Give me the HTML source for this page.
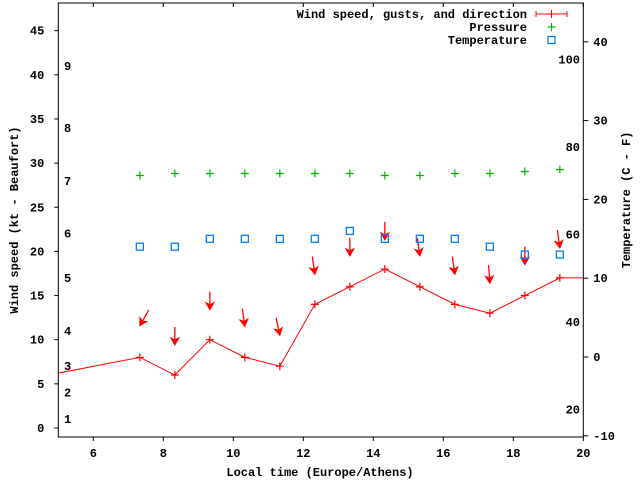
<!DOCTYPE html>
<html><head><meta charset="utf-8">
<style>
body{margin:0;background:#fff;}
svg{display:block;font-family:"Liberation Mono",monospace;font-weight:bold;font-size:12px;}
</style></head>
<body>
<svg id="chart" width="640" height="480" viewBox="0 0 640 480" xmlns="http://www.w3.org/2000/svg">
<g id="axes"></g>
<g id="marks"></g>
<g id="legend"></g>
</svg>
<script>
const times = [7.33, 8.33, 9.33, 10.33, 11.33, 12.33, 13.33, 14.33, 15.33, 16.33, 17.33, 18.33, 19.33];
const windSpeed = [8, 6, 10, 8, 7, 14, 16, 18, 16, 14, 13, 15, 17];
const windLeadTime = [4.33];
const windLeadSpeed = [5.7];
const gusts = [11.6, 9.4, 13.4, 11.5, 10.5, 17.4, 19.5, 21.3, 19.5, 17.4, 16.4, 18.5, 20.4];
const windDir = [30, 0, 0, 352, 348, 352, 0, 0, 352, 352, 356, 0, 352];
const pressure = [1013.5, 1014.0, 1014.0, 1014.0, 1014.0, 1014.0, 1014.0, 1013.5, 1013.5, 1014.0, 1014.0, 1014.5, 1015.0];
const temperature = [14, 14, 15, 15, 15, 15, 16, 15, 15, 15, 14, 13, 13];
const xTicks = [6, 8, 10, 12, 14, 16, 18, 20];
const yTicks = [0, 5, 10, 15, 20, 25, 30, 35, 40, 45];
const tTicks = [-10, 0, 10, 20, 30, 40];
const beaufortLabels = ["1","2","3","4","5","6","7","8","9"];
const beaufortKt = [1, 4, 7, 11, 17, 22, 28, 34, 41];
const fahrenheitLabels = [20, 40, 60, 80, 100];

const L=58.3,R=583.3,T=3,B=437;
const xs=t=>L+(t-5)*35;
const yL=v=>428-v*8.83;
const yT=c=>357-c*7.88;
const yP=p=>175.5-(p-1013.5)*4;
const yF=f=>yT((f-32)*5/9);
const NS="http://www.w3.org/2000/svg";
function mk(tag,attrs,parent,txt){const e=document.createElementNS(NS,tag);for(const k in attrs)e.setAttribute(k,attrs[k]);if(txt!==undefined)e.textContent=txt;parent.appendChild(e);return e;}
const ax=document.getElementById('axes'),mg=document.getElementById('marks'),lg=document.getElementById('legend');

let fr=mk('rect',{x:L,y:T,width:R-L,height:B-T,fill:'none',stroke:'#000','stroke-width':1},ax);


xTicks.forEach(t=>{
  const x=xs(t);
  mk('line',{x1:x,y1:B,x2:x,y2:B+4,stroke:'#000'},ax);
  mk('line',{x1:x,y1:T,x2:x,y2:T+4,stroke:'#000'},ax);
  const tx=mk('text',{x:x,y:B+20,'text-anchor':'middle'},ax,String(t));
  
  
});
yTicks.forEach(v=>{
  const y=yL(v);
  mk('line',{x1:L-4,y1:y,x2:L,y2:y,stroke:'#000'},ax);
  const tx=mk('text',{x:L-14,y:y+4,'text-anchor':'end'},ax,String(v));
  
  
});
tTicks.forEach(v=>{
  const y=yT(v);
  mk('line',{x1:R,y1:y,x2:R+5,y2:y,stroke:'#000'},ax);
  const tx=mk('text',{x:R+10,y:y+4,'text-anchor':'start'},ax,String(v));
  
  
});
beaufortLabels.forEach((b,i)=>{
  const tx=mk('text',{x:64,y:yL(beaufortKt[i])+4},ax,b);
  
  
});
fahrenheitLabels.forEach(f=>{
  const tx=mk('text',{x:580,y:yF(f)+4,'text-anchor':'end'},ax,String(f));
  
  
});
let xt=mk('text',{x:320,y:476,'text-anchor':'middle'},ax,'Local time (Europe/Athens)');


let yt=mk('text',{x:0,y:0,'text-anchor':'middle',transform:'translate(18,220) rotate(-90)'},ax,'Wind speed (kt - Beaufort)');


let y2t=mk('text',{x:0,y:0,'text-anchor':'middle',transform:'translate(630,200) rotate(-90)'},ax,'Temperature (C - F)');



const defs=mk('defs',{},mg);const cp=mk('clipPath',{id:'cp'},defs);mk('rect',{x:L,y:T,width:R-L,height:B-T},cp);
const g=mk('g',{'clip-path':'url(#cp)'},mg);

const allT=windLeadTime.concat(times,[20.5]);
const allV=windLeadSpeed.concat(windSpeed,[windSpeed[windSpeed.length-1]]);
let pts=allT.map((t,i)=>xs(t)+','+yL(allV[i])).join(' ');
let wl=mk('polyline',{points:pts,fill:'none',stroke:'#f00','stroke-width':1},g);


times.forEach((t,i)=>{
  const x=xs(t),y=yL(windSpeed[i]);
  const p=mk('path',{d:`M${x-4},${y}H${x+4}M${x},${y-4}V${y+4}`,stroke:'#f00','stroke-width':1.2},g);
  
  
});
times.forEach((t,i)=>{
  const x=xs(t),y=yL(gusts[i]);
  const a=windDir[i]*Math.PI/180;
  const dx=Math.sin(a),dy=-Math.cos(a);
  const len=18,hl=7,hw=4;
  const tx=x+dx*len,ty=y+dy*len;
  const bx=x+dx*hl,by=y+dy*hl;
  const px=-dy,py=dx;
  const gg=mk('g',{},g);
  
  
  mk('line',{x1:tx,y1:ty,x2:x,y2:y,stroke:'#f00','stroke-width':1.3},gg);
  mk('polygon',{points:`${x},${y} ${bx+px*hw},${by+py*hw} ${bx+dx*-2},${by+dy*-2} ${bx-px*hw},${by-py*hw}`,fill:'#f00',stroke:'#f00'},gg);
});
times.forEach((t,i)=>{
  const x=xs(t),y=yP(pressure[i]);
  const p=mk('path',{d:`M${x-4},${y}H${x+4}M${x},${y-4}V${y+4}`,stroke:'#00b000','stroke-width':1.2},g);
  
  
});
times.forEach((t,i)=>{
  const x=xs(t),y=yT(temperature[i]);
  const r=mk('rect',{x:x-3.5,y:y-3.5,width:7,height:7,fill:'none',stroke:'#0080ff','stroke-width':1.3},g);
  
  
});

const leg=[['Wind speed, gusts, and direction',14],['Pressure',27],['Temperature',40]];
leg.forEach((l,i)=>{
  const tx=mk('text',{x:527,y:l[1]+4,'text-anchor':'end'},lg,l[0]);
  
  
});
mk('path',{d:'M536,14H567M536,11V17M567,11V17M551.5,10V18',stroke:'#f00','stroke-width':1},lg);
mk('path',{d:'M547.5,27H555.5M551.5,23V31',stroke:'#00b000','stroke-width':1.2},lg);
mk('rect',{x:548,y:36.5,width:7,height:7,fill:'none',stroke:'#0080ff','stroke-width':1.3},lg);
</script>
</body></html>
